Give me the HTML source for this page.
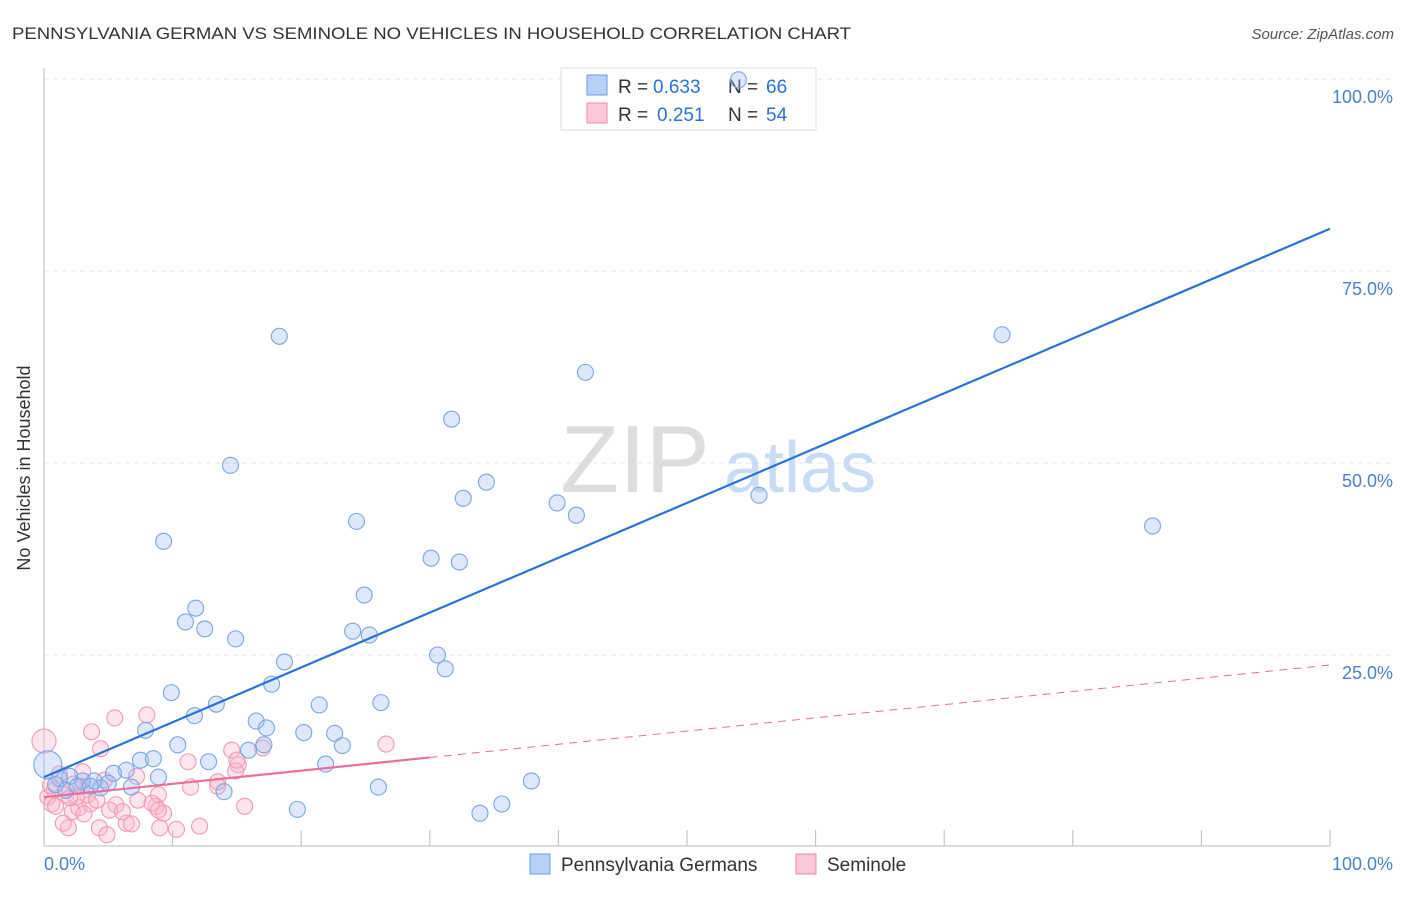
<!DOCTYPE html>
<html><head><meta charset="utf-8"><style>
body{margin:0;background:#fff;font-family:"Liberation Sans",sans-serif;}
svg text{font-family:"Liberation Sans",sans-serif;}
</style></head><body>
<svg width="1406" height="892" viewBox="0 0 1406 892">
<text x="12" y="39" font-size="17" fill="#333" textLength="839" lengthAdjust="spacingAndGlyphs">PENNSYLVANIA GERMAN VS SEMINOLE NO VEHICLES IN HOUSEHOLD CORRELATION CHART</text>
<text x="1394" y="39" font-size="15" fill="#555" font-style="italic" text-anchor="end">Source: ZipAtlas.com</text>
<g id="grid"></g>
<g>
<text x="635" y="492" font-size="96" fill="#ddd" font-family="Liberation Serif" text-anchor="middle">ZIP</text>
<text x="800" y="492" font-size="72" fill="#c8dcf5" text-anchor="middle">atlas</text>
</g>
<g>
<rect x="561" y="68" width="255" height="62" fill="#fff" stroke="#ddd"/>
<rect x="587" y="75" width="20" height="20" fill="#b8d0f4" stroke="#6a9be0"/>
<rect x="587" y="103" width="20" height="20" fill="#fac8d6" stroke="#f08aaa"/>
<text x="618" y="93" font-size="19" fill="#333">R =</text>
<text x="653" y="93" font-size="19" fill="#2a72d6">0.633</text>
<text x="728" y="93" font-size="19" fill="#333">N =</text>
<text x="766" y="93" font-size="19" fill="#2a72d6">66</text>
<text x="618" y="121" font-size="19" fill="#333">R =</text>
<text x="657" y="121" font-size="19" fill="#2a72d6">0.251</text>
<text x="728" y="121" font-size="19" fill="#333">N =</text>
<text x="766" y="121" font-size="19" fill="#2a72d6">54</text>
</g>
<line x1="44" y1="68" x2="44" y2="846" stroke="#bbb"/>
<line x1="44" y1="846" x2="1330" y2="846" stroke="#bbb"/>
<g id="ticks"></g>
<g id="pts"></g>
<g id="lines"></g>
<text x="18" y="456" font-size="18" fill="#333" transform="rotate(-90 30 456)" text-anchor="middle">No Vehicles in Household</text>
<text x="44" y="870" font-size="18" fill="#4a7fd6">0.0%</text>
<text x="1393" y="870" font-size="18" fill="#4a7fd6" text-anchor="end">100.0%</text>
<g>
<rect x="530" y="854" width="20" height="20" fill="#b8d0f4" stroke="#6a9be0"/>
<text x="561" y="871" font-size="19" fill="#333">Pennsylvania Germans</text>
<rect x="796" y="854" width="20" height="20" fill="#fac8d6" stroke="#f08aaa"/>
<text x="827" y="871" font-size="19" fill="#333">Seminole</text>
</g>
</svg>
<script>
const yTicks=[25,50,75,100];
const yTickLabels=["25.0%","50.0%","75.0%","100.0%"];
const xTicks=[0,10,20,30,40,50,60,70,80,90,100];
const blueX=[54.0,18.3,74.5,42.1,31.7,14.5,34.4,32.6,55.6,39.9,41.4,86.2,24.3,9.3,30.1,32.3,24.9,11.8,11.0,12.5,24.0,25.3,14.9,30.6,31.2,18.7,17.7,9.9,13.4,21.4,26.2,11.7,16.5,17.3,20.2,22.6,7.9,23.2,17.1,10.4,15.9,7.5,8.5,12.8,21.9,6.4,5.4,8.9,3.9,3.0,2.0,1.2,5.0,4.4,6.8,14.0,26.0,37.9,19.7,33.9,35.6,0.3,0.9,1.7,2.6,3.6];
const blueY=[99.9,66.5,66.7,61.8,55.7,49.7,47.5,45.4,45.8,44.8,43.2,41.8,42.4,39.8,37.6,37.1,32.8,31.1,29.3,28.4,28.1,27.6,27.1,25.0,23.2,24.1,21.2,20.1,18.6,18.5,18.8,17.1,16.4,15.5,14.9,14.8,15.2,13.2,13.3,13.3,12.6,11.3,11.5,11.1,10.8,10.0,9.6,9.1,8.6,8.6,9.2,8.9,8.3,7.7,7.8,7.2,7.8,8.6,4.9,4.4,5.6,10.7,8.1,7.4,7.9,7.9];
const pinkX=[0,8.0,5.5,3.7,4.4,14.6,17.0,26.6,15.1,11.2,14.9,13.5,11.4,7.2,8.9,7.3,4.7,3.0,2.3,1.2,0.8,1.7,3.4,0.3,0.6,2.7,3.6,5.6,0.9,2.2,3.1,5.1,8.7,9.3,8.4,15.6,12.1,10.3,9.0,6.4,6.8,4.3,4.9,1.9,1.5,2.5,2.0,4.1,6.1,13.5,15.0,8.9,3.0,0.5];
const pinkY=[13.8,17.2,16.8,15.0,12.8,12.6,12.9,13.4,10.7,11.1,9.9,7.9,7.8,9.2,6.8,6.1,8.7,7.9,8.2,9.5,7.4,6.8,6.8,6.5,5.6,5.1,5.6,5.5,5.3,4.6,4.3,4.8,5.3,4.4,5.7,5.3,2.7,2.3,2.5,3.1,3.0,2.5,1.6,2.5,3.1,6.5,6.4,6.1,4.6,8.5,11.3,4.8,9.8,8.0];
const blueTrend=[9.1,80.5];
const pinkTrend=[6.5,23.7];
const pinkSolidEnd=30;
const X=v=>44+v*12.86, Y=v=>847-v*7.68;
const NS="http://www.w3.org/2000/svg";
function mk(tag,attrs,parent){const e=document.createElementNS(NS,tag);for(const k in attrs)e.setAttribute(k,attrs[k]);document.getElementById(parent).appendChild(e);return e;}
yTicks.forEach((t,i)=>{
 const l=mk('line',{x1:44,x2:1394,y1:Y(t),y2:Y(t),stroke:'#e4e4e4','stroke-dasharray':'5,4'},'grid');
 
 
 const tx=mk('text',{x:1393,y:Y(t)+24,'font-size':18,fill:'#4a7fd6','text-anchor':'end'},'grid');
 tx.textContent=yTickLabels[i];
 
 
});
xTicks.forEach(t=>{
 const l=mk('line',{x1:X(t),x2:X(t),y1:830,y2:846,stroke:'#bbb'},'ticks');
 
 
});
pinkX.forEach((x,i)=>{
 const c=mk('circle',{cx:X(x),cy:Y(pinkY[i]),r:i==0?12:8,fill:'rgba(248,180,200,0.35)',stroke:'#f29ab5','stroke-width':1.1},'pts');
 
 
});
blueX.forEach((x,i)=>{
 const c=mk('circle',{cx:X(x),cy:Y(blueY[i]),r:i==61?14:8,fill:'rgba(160,190,240,0.35)',stroke:'#7aa6e4','stroke-width':1.1},'pts');
 
 
});
const bl=mk('line',{x1:X(0),y1:Y(blueTrend[0]),x2:X(100),y2:Y(blueTrend[1]),stroke:'#2a72d6','stroke-width':2.2},'lines');


const pe=pinkTrend[0]+(pinkTrend[1]-pinkTrend[0])*pinkSolidEnd/100;
const pl=mk('line',{x1:X(0),y1:Y(pinkTrend[0]),x2:X(pinkSolidEnd),y2:Y(pe),stroke:'#e8709a','stroke-width':2.2},'lines');


const pd=mk('line',{x1:X(pinkSolidEnd),y1:Y(pe),x2:X(100),y2:Y(pinkTrend[1]),stroke:'#e8709a','stroke-width':1,'stroke-dasharray':'8,6'},'lines');


</script>
</body></html>
